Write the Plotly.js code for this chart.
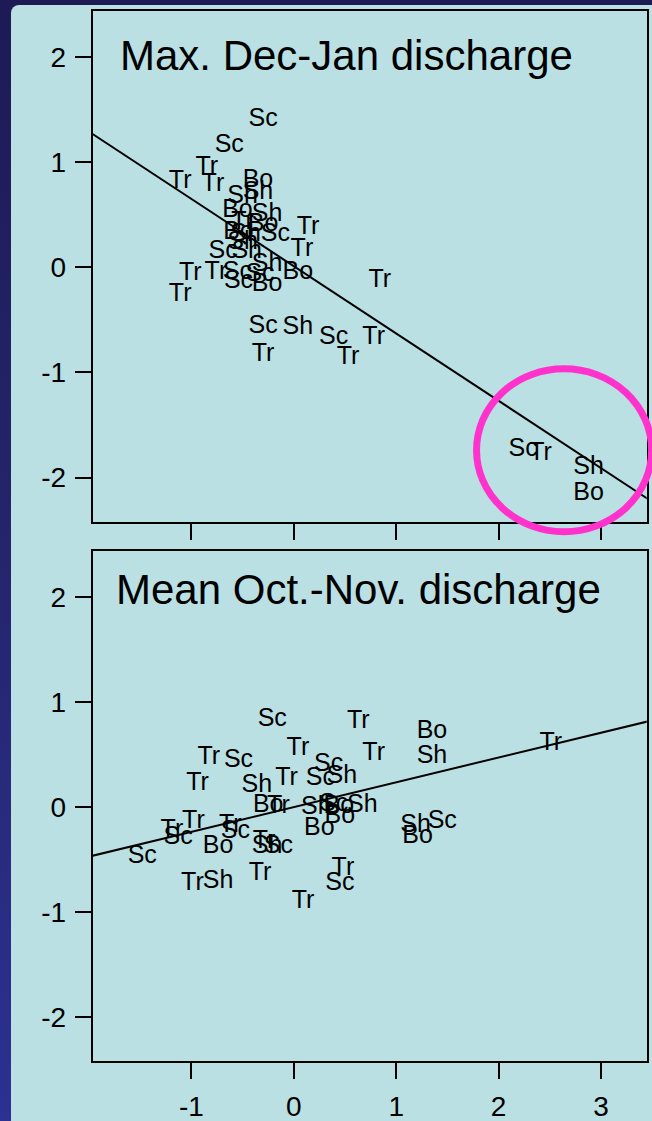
<!DOCTYPE html>
<html>
<head>
<meta charset="utf-8">
<script src="https://cdn.plot.ly/plotly-2.35.2.min.js"></script>
<style>
  html, body { margin: 0; padding: 0; }
  body { width: 652px; height: 1121px; overflow: hidden; position: relative;
         background: linear-gradient(to bottom, #1d1a55 0%, #25256c 50%, #2c3192 100%); }
  #panel { position: absolute; left: 11px; top: 5px; width: 641px; height: 1116px;
           background: #BAE0E4; border-top-left-radius: 8px; }
  #chart { position: absolute; left: 0; top: 0; width: 652px; height: 1121px; }
</style>
</head>
<body>
<div id="panel"></div>
<div id="chart"></div>
<script>
// ---- Panel titles ----
const panelTitles = ["Max. Dec-Jan discharge", "Mean Oct.-Nov. discharge"];

// ---- Top panel: Max. Dec-Jan discharge ----
const topLabels = [
  "Tr","Tr","Tr","Tr","Tr","Tr","Tr","Tr","Tr","Tr","Tr","Tr","Tr","Tr",
  "Sc","Sc","Sc","Sc","Sc","Sc","Sc","Sc","Sc","Sc",
  "Sh","Sh","Sh","Sh","Sh","Sh","Sh","Sh","Sh",
  "Bo","Bo","Bo","Bo","Bo","Bo","Bo"
];
const topX = [
  -0.85,-1.11,-0.79,0.14,0.08,-0.50,-1.01,-0.76,-1.11,0.84,-0.30,0.53,0.78,2.41,
  -0.30,-0.63,-0.18,-0.69,-0.55,-0.54,-0.33,-0.30,0.39,2.24,
  -0.35,-0.50,-0.26,-0.47,-0.50,-0.46,-0.26,0.04,2.88,
  -0.35,-0.55,-0.30,-0.54,0.04,-0.26,2.88
];
const topY = [
  0.95,0.81,0.78,0.38,0.17,0.42,-0.06,-0.05,-0.26,-0.13,-0.83,-0.86,-0.67,-1.77,
  1.40,1.16,0.31,0.15,-0.05,-0.14,-0.07,-0.57,-0.67,-1.74,
  0.71,0.67,0.50,0.31,0.23,0.15,0.02,-0.58,-1.91,
  0.82,0.54,0.40,0.33,-0.05,-0.17,-2.15
];

// ---- Bottom panel: Mean Oct.-Nov. discharge ----
const botLabels = [
  "Tr","Tr","Tr","Tr","Tr","Tr","Tr","Tr","Tr","Tr","Tr","Tr","Tr","Tr","Tr","Tr",
  "Sc","Sc","Sc","Sc","Sc","Sc","Sc","Sc","Sc","Sc","Sc",
  "Sh","Sh","Sh","Sh","Sh","Sh","Sh","Sh",
  "Bo","Bo","Bo","Bo","Bo","Bo","Bo"
];
const botX = [
  0.63,2.51,0.04,0.78,-0.83,-0.07,-0.94,-0.15,-0.98,-1.19,-0.62,-0.29,-0.99,-0.33,0.48,0.09,
  -0.21,-0.54,0.34,0.26,0.39,1.45,-1.13,-0.57,-1.48,-0.15,0.45,
  1.35,0.47,-0.36,0.22,0.67,1.19,-0.26,-0.74,
  1.35,-0.25,0.44,0.45,0.25,1.21,-0.74
];
const botY = [
  0.81,0.60,0.56,0.51,0.47,0.27,0.22,0.00,-0.14,-0.23,-0.18,-0.33,-0.73,-0.64,-0.59,-0.90,
  0.83,0.44,0.40,0.27,0.02,-0.14,-0.29,-0.24,-0.47,-0.38,-0.73,
  0.48,0.29,0.20,-0.01,0.01,-0.18,-0.38,-0.71,
  0.72,0.01,0.00,-0.09,-0.21,-0.28,-0.38
];

// ---- Fitted lines (intercept, slope) per panel ----
const lineIntercepts = [0.01, 0.0];
const lineSlopes = [-0.64, 0.236];

// ---- Highlight ellipse on top panel (data units) ----
const highlightCenter = [2.64, -1.74];
const highlightRadius = [0.855, 0.775];

// ---- Axis setup ----
const xRange = [-1.964, 3.447];
const yRange = [-2.42, 2.44];
const xTicks = [-1, 0, 1, 2, 3];
const xTickText = ["-1", "0", "1", "2", "3"];
const yTicks = [-2, -1, 0, 1, 2];
const yTickText = ["-2", "-1", "0", "1", "2"];
const xDomain = [92.7/652, 646.7/652];
const yDomTop = [1 - 521.7/1121, 1 - 10.7/1121];
const yDomBot = [1 - 1061/1121, 1 - 551/1121];

const FONT = "'Liberation Sans', Arial, Helvetica, sans-serif";

function lineTrace(i, xa, ya) {
  const xs = [xRange[0] - 0.1, xRange[1] + 0.1];
  return {
    x: xs, y: xs.map(v => lineIntercepts[i] + lineSlopes[i] * v),
    xaxis: xa, yaxis: ya, mode: 'lines', type: 'scatter',
    line: {color: 'black', width: 2}, hoverinfo: 'skip', showlegend: false
  };
}
function textTrace(labels, xs, ys, xa, ya) {
  return {
    x: xs, y: ys, text: labels, xaxis: xa, yaxis: ya,
    mode: 'text', type: 'scatter', textposition: 'middle center',
    textfont: {family: FONT, size: 25, color: 'black'},
    cliponaxis: false, showlegend: false, hoverinfo: 'text'
  };
}

const data = [
  lineTrace(0, 'x', 'y'),
  textTrace(topLabels, topX, topY, 'x', 'y'),
  lineTrace(1, 'x2', 'y2'),
  textTrace(botLabels, botX, botY, 'x2', 'y2')
];

function axisBase() {
  return {
    showline: true, linecolor: 'black', linewidth: 2, mirror: true,
    ticks: 'outside', ticklen: 16, tickwidth: 2, tickcolor: 'black',
    showgrid: false, zeroline: false, automargin: false,
    tickfont: {family: FONT, size: 28, color: 'black'}
  };
}

// data -> paper coordinate helpers for the ellipse (top panel)
function px(v) { return xDomain[0] + (v - xRange[0]) / (xRange[1] - xRange[0]) * (xDomain[1] - xDomain[0]); }
function pyTop(v) { return yDomTop[0] + (v - yRange[0]) / (yRange[1] - yRange[0]) * (yDomTop[1] - yDomTop[0]); }

const layout = {
  width: 652, height: 1121,
  margin: {l: 0, r: 0, t: 0, b: 0},
  paper_bgcolor: 'rgba(0,0,0,0)', plot_bgcolor: 'rgba(0,0,0,0)',
  showlegend: false,
  xaxis: Object.assign(axisBase(), {domain: xDomain, range: xRange, tickvals: xTicks, showticklabels: false, anchor: 'y'}),
  yaxis: Object.assign(axisBase(), {domain: yDomTop, range: yRange, tickvals: yTicks, ticktext: yTickText, ticklabelstandoff: 3, anchor: 'x'}),
  xaxis2: Object.assign(axisBase(), {domain: xDomain, range: xRange, tickvals: xTicks, ticktext: xTickText, ticklabelstandoff: 3, anchor: 'y2'}),
  yaxis2: Object.assign(axisBase(), {domain: yDomBot, range: yRange, tickvals: yTicks, ticktext: yTickText, ticklabelstandoff: 3, anchor: 'x2'}),
  annotations: [
    {text: panelTitles[0], xref: 'x domain', yref: 'y domain', x: 0.046, y: 0.913,
     xanchor: 'left', yanchor: 'middle', showarrow: false,
     font: {family: FONT, size: 42, color: 'black'}},
    {text: panelTitles[1], xref: 'x2 domain', yref: 'y2 domain', x: 0.039, y: 0.924,
     xanchor: 'left', yanchor: 'middle', showarrow: false,
     font: {family: FONT, size: 42, color: 'black'}}
  ],
  shapes: [
    {type: 'circle', xref: 'paper', yref: 'paper',
     x0: px(highlightCenter[0] - highlightRadius[0]), x1: px(highlightCenter[0] + highlightRadius[0]),
     y0: pyTop(highlightCenter[1] - highlightRadius[1]), y1: pyTop(highlightCenter[1] + highlightRadius[1]),
     line: {color: '#FF33CC', width: 7}, fillcolor: 'rgba(0,0,0,0)', layer: 'above'}
  ]
};

Plotly.newPlot('chart', data, layout, {staticPlot: true, displayModeBar: false});
</script>
</body>
</html>
